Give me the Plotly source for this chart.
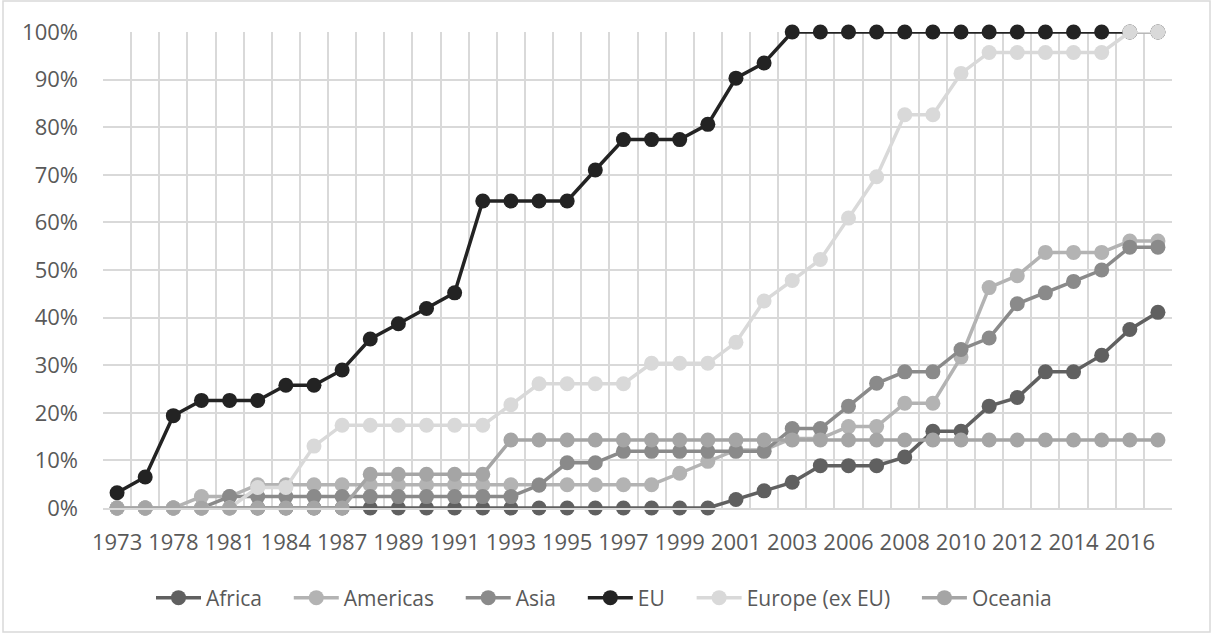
import plotly.graph_objects as go

# Years (category axis; every other year is labelled)
years = ["1973", "1975", "1978", "1979", "1981", "1982", "1984", "1985", "1987", "1988",
         "1989", "1990", "1991", "1992", "1993", "1994", "1995", "1996", "1997", "1998",
         "1999", "2000", "2001", "2002", "2003", "2005", "2006", "2007", "2008", "2009",
         "2010", "2011", "2012", "2013", "2014", "2015", "2016", "2017"]

# Share of countries per region (%)
africa = [0, 0, 0, 0, 0, 0, 0, 0, 0, 0,
          0, 0, 0, 0, 0, 0, 0, 0, 0, 0,
          0, 0, 1.8, 3.6, 5.4, 8.9, 8.9, 8.9, 10.7, 16.1,
          16.1, 21.4, 23.2, 28.6, 28.6, 32.1, 37.5, 41.1]
americas = [0, 0, 0, 2.4, 2.4, 4.9, 4.9, 4.9, 4.9, 4.9,
            4.9, 4.9, 4.9, 4.9, 4.9, 4.9, 4.9, 4.9, 4.9, 4.9,
            7.3, 9.8, 12.2, 12.2, 14.6, 14.6, 17.1, 17.1, 22.0, 22.0,
            31.7, 46.3, 48.8, 53.7, 53.7, 53.7, 56.1, 56.1]
asia = [0, 0, 0, 0, 2.4, 2.4, 2.4, 2.4, 2.4, 2.4,
        2.4, 2.4, 2.4, 2.4, 2.4, 4.8, 9.5, 9.5, 11.9, 11.9,
        11.9, 11.9, 11.9, 11.9, 16.7, 16.7, 21.4, 26.2, 28.6, 28.6,
        33.3, 35.7, 42.9, 45.2, 47.6, 50.0, 54.8, 54.8]
eu = [3.2, 6.5, 19.4, 22.6, 22.6, 22.6, 25.8, 25.8, 29.0, 35.5,
      38.7, 41.9, 45.2, 64.5, 64.5, 64.5, 64.5, 71.0, 77.4, 77.4,
      77.4, 80.6, 90.3, 93.5, 100, 100, 100, 100, 100, 100,
      100, 100, 100, 100, 100, 100, 100, 100]
europe_ex_eu = [0, 0, 0, 0, 0, 4.3, 4.3, 13.0, 17.4, 17.4,
                17.4, 17.4, 17.4, 17.4, 21.7, 26.1, 26.1, 26.1, 26.1, 30.4,
                30.4, 30.4, 34.8, 43.5, 47.8, 52.2, 60.9, 69.6, 82.6, 82.6,
                91.3, 95.7, 95.7, 95.7, 95.7, 95.7, 100, 100]
oceania = [0, 0, 0, 0, 0, 0, 0, 0, 0, 7.1,
           7.1, 7.1, 7.1, 7.1, 14.3, 14.3, 14.3, 14.3, 14.3, 14.3,
           14.3, 14.3, 14.3, 14.3, 14.3, 14.3, 14.3, 14.3, 14.3, 14.3,
           14.3, 14.3, 14.3, 14.3, 14.3, 14.3, 14.3, 14.3]

series = [
    ("Africa", africa, "#606060"),
    ("Americas", americas, "#b3b3b3"),
    ("Asia", asia, "#8a8a8a"),
    ("EU", eu, "#232323"),
    ("Europe (ex EU)", europe_ex_eu, "#d9d9d9"),
    ("Oceania", oceania, "#a5a5a5"),
]

tick_text = [y if i % 2 == 0 else "" for i, y in enumerate(years)]

W, H = 1213, 634
ML, MR, MT, MB = 103, 41, 32, 126
PW, PH = W - ML - MR, H - MT - MB

# non-breaking spaces widen the gap between legend entries
LEGEND_PAD = "\u00a0" * 4

fig = go.Figure()
for i, (name, vals, color) in enumerate(series):
    label = name + (LEGEND_PAD if i < len(series) - 1 else "")
    fig.add_trace(go.Scatter(
        x=years, y=vals, name=label, mode="lines+markers",
        line=dict(color=color, width=3.5),
        marker=dict(size=15, color=color),
        cliponaxis=False,
    ))

font_color = "#595959"
fig.update_layout(
    width=W, height=H,
    margin=dict(l=ML, r=MR, t=MT, b=MB, pad=0),
    paper_bgcolor="white", plot_bgcolor="white",
    font=dict(family="Open Sans, sans-serif", size=22, color=font_color),
    showlegend=True,
    legend=dict(
        orientation="h", x=(604 - ML) / PW, xanchor="center",
        y=-(598 - (MT + PH)) / PH, yanchor="middle",
        font=dict(size=21, color=font_color),
        itemwidth=45, tracegroupgap=0,
    ),
    xaxis=dict(
        type="category", categoryorder="array", categoryarray=years,
        tickmode="array", tickvals=years, ticktext=tick_text,
        tickson="boundaries", ticks="", tickangle=0,
        showgrid=True, gridcolor="#d9d9d9", gridwidth=1.5,
        showline=True, linecolor="#d9d9d9", linewidth=1.5,
        range=[-0.5, len(years) - 0.5],
        ticklabelstandoff=14,
        tickfont=dict(size=22, color=font_color),
    ),
    yaxis=dict(
        range=[0, 100], dtick=10, ticksuffix="%",
        showgrid=True, gridcolor="#d9d9d9", gridwidth=1.5,
        zeroline=False, ticks="",
        ticklabelstandoff=24,
        tickfont=dict(size=22, color=font_color),
    ),
    shapes=[dict(
        type="rect", xref="paper", yref="paper",
        x0=(3 - ML) / PW, x1=(1210 - ML) / PW,
        y0=(MT + PH - 1) / PH, y1=(MT + PH - 632) / PH,
        line=dict(color="#d9d9d9", width=1.5), fillcolor="rgba(0,0,0,0)",
        layer="below",
    )],
)

fig.write_html("out.html")
